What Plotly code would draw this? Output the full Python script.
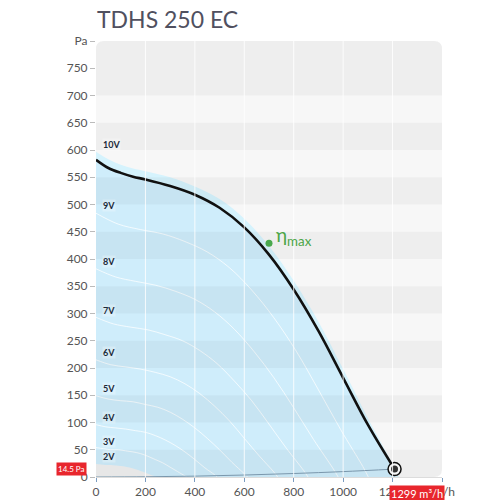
import plotly.graph_objects as go

# fan curves (flow m3/h, pressure Pa), 10V down to 2V
curve_10v_x = [0, 50, 100, 150, 200, 300, 400, 500, 600, 700, 800, 900, 1000, 1100, 1200, 1225]
curve_10v_y = [597, 583, 573, 566, 561, 550, 533, 510, 474, 424, 360, 285, 198, 108, 24, 0]
curve_9v_x = [0, 90, 180, 270, 360, 450, 540, 630, 720, 810, 900, 990, 1080, 1102]
curve_9v_y = [484, 464, 454, 446, 432, 413, 384, 343, 292, 231, 160, 87, 19, 0]
curve_8v_x = [0, 80, 160, 240, 320, 400, 480, 560, 640, 720, 800, 880, 960, 980]
curve_8v_y = [382, 367, 359, 352, 341, 326, 303, 271, 230, 182, 127, 69, 15, 0]
curve_7v_x = [0, 70, 140, 210, 280, 350, 420, 490, 560, 630, 700, 770, 840, 858]
curve_7v_y = [293, 281, 275, 270, 261, 250, 232, 208, 176, 140, 97, 53, 12, 0]
curve_6v_x = [0, 60, 120, 180, 240, 300, 360, 420, 480, 540, 600, 660, 720, 735]
curve_6v_y = [215, 206, 202, 198, 192, 184, 171, 153, 130, 103, 71, 39, 9, 0]
curve_5v_x = [0, 50, 100, 150, 200, 250, 300, 350, 400, 450, 500, 550, 600, 613]
curve_5v_y = [149, 143, 140, 138, 133, 128, 119, 106, 90, 71, 50, 27, 6, 0]
curve_4v_x = [0, 40, 80, 120, 160, 200, 240, 280, 320, 360, 400, 440, 480, 490]
curve_4v_y = [96, 92, 90, 88, 85, 82, 76, 68, 58, 46, 32, 17, 4, 0]
curve_3v_x = [0, 30, 60, 90, 120, 150, 180, 210, 240, 270, 300, 330, 360, 368]
curve_3v_y = [54, 52, 50, 50, 48, 46, 43, 38, 32, 26, 18, 10, 2, 0]
curve_2v_x = [0, 20, 40, 60, 80, 100, 120, 140, 160, 180, 200, 220, 240, 245]
curve_2v_y = [24, 23, 22, 22, 21, 20, 19, 17, 14, 11, 8, 4, 1, 0]

voltage_names = ["10V", "9V", "8V", "7V", "6V", "5V", "4V", "3V", "2V"]
voltage_label_y = [611, 498, 396, 306, 228, 163, 109, 66, 37]

# working curve (black) and system curve
work_x = [0, 50, 100, 150, 200, 300, 400, 500, 600, 700, 800, 900, 1000, 1100, 1208]
work_y = [582, 567, 558, 551, 546, 534, 518, 494, 458, 408, 344, 268, 182, 96, 14.5]
system_x = [0, 200, 400, 600, 800, 1000, 1208]
system_y = [0, 0.4, 1.6, 3.6, 6.4, 9.9, 14.5]

op_flow = 1208
op_pressure = 14.5
op_flow_label = "1299 m³/h"
op_pressure_label = "14.5 Pa"

eta_x = [700]
eta_y = [429]

x_ticks = [0, 200, 400, 600, 800, 1000, 1200, 1400]
x_tick_text = ["0", "200", "400", "600", "800", "1000", "1200", "m³/h"]
y_ticks = list(range(0, 801, 50))
y_tick_text = [str(v) for v in y_ticks[:-1]] + ["Pa"]

font = "Lato, 'Open Sans', sans-serif"

fig = go.Figure()

# operating area
fig.add_trace(go.Scatter(x=curve_10v_x, y=curve_10v_y, mode="lines", line=dict(width=0, shape="spline"),
                         fill="tozeroy", fillcolor="#d5f3fd", hoverinfo="skip"))
fig.add_trace(go.Scatter(x=work_x, y=work_y, mode="lines", line=dict(width=0, shape="spline"),
                         fill="tozeroy", fillcolor="#cfedfb", hoverinfo="skip"))
fig.add_trace(go.Scatter(x=curve_2v_x, y=curve_2v_y, mode="lines", line=dict(width=0, shape="spline"),
                         fill="tozeroy", fillcolor="#f0f0f0", hoverinfo="skip"))

# thin voltage curves
curves = [(curve_9v_x, curve_9v_y), (curve_8v_x, curve_8v_y), (curve_7v_x, curve_7v_y),
          (curve_6v_x, curve_6v_y), (curve_5v_x, curve_5v_y), (curve_4v_x, curve_4v_y),
          (curve_3v_x, curve_3v_y)]
for cx, cy in curves:
    fig.add_trace(go.Scatter(x=cx, y=cy, mode="lines",
                             line=dict(color="rgba(255,255,255,0.75)", width=1, shape="spline"),
                             hoverinfo="skip"))

# system curve
fig.add_trace(go.Scatter(x=system_x, y=system_y, mode="lines",
                         line=dict(color="#7f9db3", width=1, shape="spline"), hoverinfo="skip"))

# working curve
fig.add_trace(go.Scatter(x=work_x, y=work_y, mode="lines",
                         line=dict(color="#111111", width=2.6, shape="spline"),
                         hoverinfo="skip"))

# eta max
fig.add_trace(go.Scatter(x=eta_x, y=eta_y, mode="markers",
                         marker=dict(color="#4caf50", size=7), hoverinfo="skip"))

# operating point
fig.add_trace(go.Scatter(x=[op_flow], y=[op_pressure], mode="markers",
                         marker=dict(color="white", size=13, line=dict(color="#111111", width=1.5)),
                         hoverinfo="skip"))
fig.add_trace(go.Scatter(x=[op_flow], y=[op_pressure], mode="markers",
                         marker=dict(color="#333333", size=7), hoverinfo="skip"))

# background with rounded corners (paper coords = plot area)
rx, ry = 8 / 346, 8 / 436
shapes = []
shapes.append(dict(type="path", xref="paper", yref="paper", layer="below", line=dict(width=0),
                   fillcolor="#f7f7f7",
                   path=f"M 0,0 L 0,{1-ry} Q 0,1 {rx},1 L {1-rx},1 Q 1,1 1,{1-ry} "
                        f"L 1,{ry} Q 1,0 {1-rx},0 Z"))
band = "rgba(0,0,0,0.036)"
# darker bands
shapes.append(dict(type="path", xref="paper", yref="paper", layer="above", line=dict(width=0),
                   fillcolor=band,
                   path=f"M 0,0 L 0,{50/800} L 1,{50/800} L 1,{ry} Q 1,0 {1-rx},0 Z"))
for lo in range(100, 700, 100):
    shapes.append(dict(type="rect", xref="paper", yref="y", x0=0, x1=1, y0=lo, y1=lo + 50,
                       layer="above", line=dict(width=0), fillcolor=band))
shapes.append(dict(type="path", xref="paper", yref="paper", layer="above", line=dict(width=0),
                   fillcolor=band,
                   path=f"M 0,{700/800} L 0,{1-ry} Q 0,1 {rx},1 L {1-rx},1 Q 1,1 1,{1-ry} "
                        f"L 1,{700/800} Z"))
# vertical grid lines
for xv in x_ticks[1:-1]:
    shapes.append(dict(type="line", xref="x", yref="paper", x0=xv, x1=xv, y0=0, y1=1,
                       layer="above", line=dict(color="rgba(255,255,255,0.85)", width=1)))

annotations = []
for name, ly in zip(voltage_names, voltage_label_y):
    annotations.append(dict(x=24, y=ly, xref="x", yref="y", text=f"<b>{name}</b>", showarrow=False,
                            xanchor="left", yanchor="middle",
                            font=dict(family=font, size=9, color="#1b2a3a"),
                            bgcolor="rgba(255,255,255,0.25)", borderpad=0))
annotations.append(dict(x=eta_x[0], y=eta_y[0], xref="x", yref="y", text="η<sub>max</sub>",
                        showarrow=False, xanchor="left", yanchor="middle", xshift=5, yshift=7,
                        font=dict(family=font, size=19, color="#4aa546")))
annotations.append(dict(x=op_flow, y=0, xref="x", yref="paper", text=op_flow_label, showarrow=False,
                        xanchor="left", yanchor="top", xshift=-6, yshift=-8,
                        font=dict(family=font, size=11, color="white"),
                        bgcolor="#e8262d", borderpad=1))
annotations.append(dict(x=-0.026, y=op_pressure, xref="paper", yref="y", text=op_pressure_label,
                        showarrow=False, xanchor="right", yanchor="middle",
                        font=dict(family=font, size=8, color="white"),
                        bgcolor="#e8262d", borderpad=1))

# the page body adds 8px offset, so the figure is 492px and margins are reduced
fig.update_layout(
    width=492, height=492,
    margin=dict(l=88, r=58, t=33, b=23),
    paper_bgcolor="white", plot_bgcolor="white",
    showlegend=False,
    title=dict(text="TDHS 250 EC", x=89 / 492, xanchor="left",
               y=1 - 12 / 492, yanchor="middle", yref="container",
               font=dict(family=font, size=23, color="#50505f")),
    shapes=shapes,
    annotations=annotations,
    font=dict(family=font),
)
fig.update_xaxes(range=[0, 1400], tickvals=x_ticks, ticktext=x_tick_text, showgrid=False,
                 zeroline=False, showline=True, linecolor="#dcdcdc", linewidth=1,
                 ticks="outside", ticklen=4, tickcolor="#7b9cc0", automargin=False,
                 tickfont=dict(family=font, size=12, color="#555555"), fixedrange=True)
fig.update_yaxes(range=[0, 800], tickvals=y_ticks, ticktext=y_tick_text, showgrid=False,
                 zeroline=False, showline=False, ticks="outside", ticklen=5, tickcolor="#bbbbbb",
                 automargin=False,
                 tickfont=dict(family=font, size=12, color="#555555"), fixedrange=True)

fig.write_html("out.html")
